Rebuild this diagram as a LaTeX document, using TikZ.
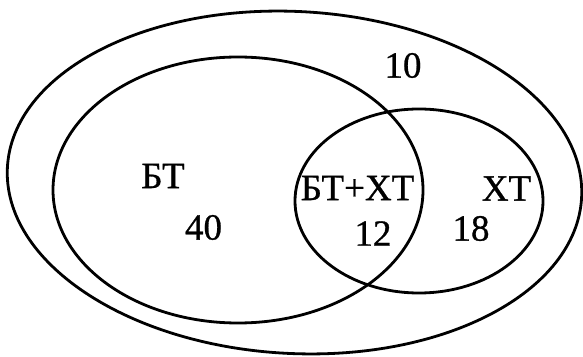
\documentclass[tikz,border=0pt]{standalone}
\usepackage{fontspec}
\setmainfont{Liberation Serif}
\begin{document}
\begin{tikzpicture}[x=1pt,y=1pt,
  setline/.style={line width=2.8pt},
  lbl/.style={inner sep=0pt, font=\fontsize{37}{44}\selectfont\addfontfeatures{FakeBold=0.8}}]
\useasboundingbox (0,0) rectangle (583,356);
% universe
\draw[setline, rotate around={-3:(294.5,173.5)}] (294.5,173.5) ellipse [x radius=287.5, y radius=171];
% BT set
\draw[setline] (238,166) ellipse [x radius=185, y radius=133];
% XT set
\draw[setline] (419,155) ellipse [x radius=124, y radius=92];
% labels
\node[lbl] (n10) at (403,290.5) {10};
\node[lbl] (bt) at (163,180) {БТ};
\node[lbl] (n40) at (203.5,128.5) {40};
\node[lbl] (btxt) at (357.5,168) {БТ+ХТ};
\node[lbl] (n12) at (373,122.5) {12};
\node[lbl] (xt) at (506.5,167.5) {ХТ};
\node[lbl] (n18) at (471,127.5) {18};
\end{tikzpicture}
\end{document}
